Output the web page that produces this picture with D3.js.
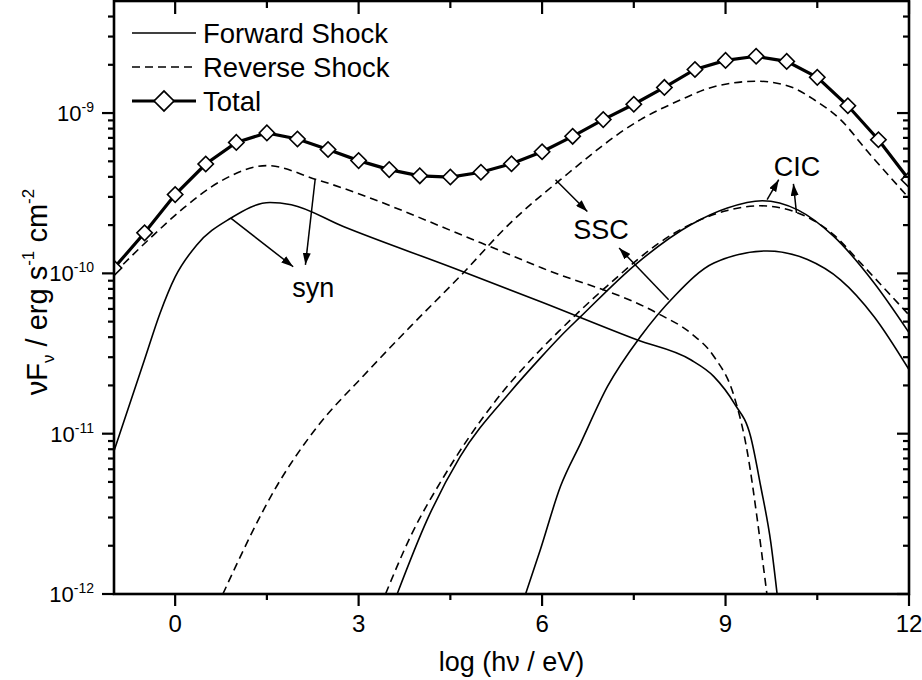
<!DOCTYPE html>
<html>
<head>
<meta charset="utf-8">
<script src="https://d3js.org/d3.v7.min.js"></script>
<style>
body { margin: 0; background: #fff; }
text { font-family: "Liberation Sans", Arial, sans-serif; fill: #000; }
.tick-line { stroke: #000; stroke-width: 2.2; }
</style>
</head>
<body>
<div id="chart"></div>
<script>
// values: x = log(hv/eV), y = vF_v in erg s^-1 cm^-2
var fsSynX = [-1, -0.5, -0.25, 0, 0.35, 0.9, 1.55, 1.9, 2.75, 4.55, 6.0, 7.55, 8.43, 8.81, 9.14, 9.41, 9.575, 9.74, 9.85];
var fsSynY = [7.8e-12, 2.9e-11, 5.6e-11, 9.5e-11, 1.5e-10, 2.2e-10, 2.77e-10, 2.68e-10, 1.96e-10, 1.08e-10, 6.6e-11, 3.85e-11, 2.89e-11, 2.27e-11, 1.55e-11, 9.6e-12, 4.7e-12, 2.1e-12, 9.5e-13];

var rsSynX = [-1, -0.35, 0.14, 0.74, 1.5, 2.32, 5.0, 6.0, 7.88, 8.43, 8.81, 9.14, 9.36, 9.52, 9.66, 9.7];
var rsSynY = [1.0e-10, 1.74e-10, 2.56e-10, 3.75e-10, 4.7e-10, 3.84e-10, 1.55e-10, 1.08e-10, 5.65e-11, 4.24e-11, 3.03e-11, 1.71e-11, 7.55e-12, 2.9e-12, 1.12e-12, 8.5e-13];

var rsSscX = [0.78, 1.66, 2.32, 3.08, 3.85, 4.66, 5.48, 6.3, 7.61, 8.27, 8.81, 9.52, 10.06, 10.45, 10.88, 11.32, 12.0];
var rsSscY = [1.0e-12, 4.7e-12, 1.1e-11, 2.3e-11, 4.67e-11, 9.6e-11, 2.06e-10, 3.84e-10, 9.1e-10, 1.21e-9, 1.46e-9, 1.58e-9, 1.46e-9, 1.21e-9, 9.1e-10, 5.77e-10, 2.95e-10];

var fsSscX = [3.63, 4.12, 4.66, 5.48, 5.97, 6.3, 6.63, 7.556, 8.43, 9.03, 9.6, 10.18, 10.77, 11.43, 12.0];
var fsSscY = [1.0e-12, 2.9e-12, 7.19e-12, 1.82e-11, 2.96e-11, 4.04e-11, 5.37e-11, 1.16e-10, 2.01e-10, 2.56e-10, 2.84e-10, 2.49e-10, 1.70e-10, 8.71e-11, 4.27e-11];

var rsCicX = [3.44, 3.85, 4.39, 5.21, 5.97, 6.3, 7.0, 8.16, 9.03, 9.57, 10.12, 10.77, 11.21, 11.92, 12.0];
var rsCicY = [1.0e-12, 2.29e-12, 5.37e-12, 1.55e-11, 3.33e-11, 4.45e-11, 7.94e-11, 1.78e-10, 2.47e-10, 2.64e-10, 2.43e-10, 1.74e-10, 1.16e-10, 5.93e-11, 5.5e-11];

var fsCicX = [5.73, 5.97, 6.3, 6.63, 7.07, 7.61, 8.16, 8.81, 9.68, 10.34, 10.88, 11.43, 12.0];
var fsCicY = [1.0e-12, 1.88e-12, 4.68e-12, 8.71e-12, 1.97e-11, 4.04e-11, 7.18e-11, 1.16e-10, 1.38e-10, 1.22e-10, 9.12e-11, 5.37e-11, 2.51e-11];

var totalX = [-1, -0.5, 0, 0.5, 1, 1.5, 2, 2.5, 3, 3.5, 4, 4.5, 5, 5.5, 6, 6.5, 7, 7.5, 8, 8.5, 9, 9.5, 10, 10.5, 11, 11.5, 12];
var totalY = [1.08e-10, 1.79e-10, 3.10e-10, 4.81e-10, 6.56e-10, 7.52e-10, 6.89e-10, 5.92e-10, 5.05e-10, 4.44e-10, 4.06e-10, 3.99e-10, 4.27e-10, 4.83e-10, 5.74e-10, 7.16e-10, 9.10e-10, 1.135e-9, 1.445e-9, 1.87e-9, 2.13e-9, 2.26e-9, 2.10e-9, 1.67e-9, 1.11e-9, 6.82e-10, 3.84e-10];

var xMajor = [0, 3, 6, 9, 12];
var xMinor = [1.5, 4.5, 7.5, 10.5];
var yMajor = [1e-12, 1e-11, 1e-10, 1e-9];
var yMajorExp = ["-12", "-11", "-10", "-9"];
var yMinor = [2e-12, 3e-12, 4e-12, 5e-12, 6e-12, 7e-12, 8e-12, 9e-12,
              2e-11, 3e-11, 4e-11, 5e-11, 6e-11, 7e-11, 8e-11, 9e-11,
              2e-10, 3e-10, 4e-10, 5e-10, 6e-10, 7e-10, 8e-10, 9e-10,
              2e-9, 3e-9, 4e-9];

var legendLabels = ["Forward Shock", "Reverse Shock", "Total"];

// annotation labels and arrows, in data units
var noteText = ["syn", "SSC", "CIC"];
var noteX = [1.915, 6.51, 9.79];
var noteY = [7.14e-11, 1.64e-10, 4.06e-10];
var arrowX1 = [0.91, 2.29, 6.22, 8.07, 9.68, 10.16];
var arrowY1 = [2.21e-10, 3.88e-10, 3.84e-10, 6.84e-11, 2.88e-10, 2.38e-10];
var arrowX2 = [1.93, 2.13, 6.74, 7.26, 9.87, 10.11];
var arrowY2 = [1.10e-10, 1.13e-10, 2.43e-10, 1.44e-10, 3.84e-10, 3.62e-10];

var W = 922, H = 680;
var pLeft = 114, pRight = 909, pTop = 1, pBottom = 594;

var x = d3.scaleLinear().domain([-1, 12]).range([pLeft, pRight]);
var y = d3.scaleLog().domain([1e-12, 5e-9]).range([pBottom, pTop]);

var svg = d3.select("#chart").append("svg")
    .attr("width", W)
    .attr("height", H);

var defs = svg.append("defs");
defs.append("clipPath").attr("id", "plotclip")
    .append("rect")
    .attr("x", pLeft).attr("y", 0)
    .attr("width", pRight - pLeft).attr("height", pBottom);
defs.append("marker")
    .attr("id", "head")
    .attr("markerUnits", "userSpaceOnUse")
    .attr("markerWidth", 13).attr("markerHeight", 8)
    .attr("refX", 12).attr("refY", 4)
    .attr("orient", "auto")
    .append("path")
    .attr("d", "M0,0L12,4L0,8Z")
    .attr("fill", "#000");

var plot = svg.append("g").attr("clip-path", "url(#plotclip)");

function zip(xs, ys) {
    return xs.map(function(v, i) { return [v, ys[i]]; });
}

var smooth = d3.line()
    .x(function(d) { return x(d[0]); })
    .y(function(d) { return y(d[1]); })
    .curve(d3.curveMonotoneX);

var curves = [
    { xs: fsSynX, ys: fsSynY, dash: null },
    { xs: rsSynX, ys: rsSynY, dash: "8,5" },
    { xs: rsSscX, ys: rsSscY, dash: "8,5" },
    { xs: fsSscX, ys: fsSscY, dash: null },
    { xs: rsCicX, ys: rsCicY, dash: "8,5" },
    { xs: fsCicX, ys: fsCicY, dash: null }
];

curves.forEach(function(c) {
    plot.append("path")
        .attr("d", smooth(zip(c.xs, c.ys)))
        .attr("fill", "none")
        .attr("stroke", "#000")
        .attr("stroke-width", 1.6)
        .attr("stroke-dasharray", c.dash);
});

// total
var totalData = zip(totalX, totalY);
plot.append("path")
    .attr("d", d3.line()
        .x(function(d) { return x(d[0]); })
        .y(function(d) { return y(d[1]); })(totalData))
    .attr("fill", "none")
    .attr("stroke", "#000")
    .attr("stroke-width", 3.2);

var diamond = d3.symbol().type(d3.symbolSquare).size(118);
plot.selectAll(".dia")
    .data(totalData)
    .enter().append("path")
    .attr("class", "dia")
    .attr("d", diamond)
    .attr("transform", function(d) { return "translate(" + x(d[0]) + "," + y(d[1]) + ") rotate(45)"; })
    .attr("fill", "#fff")
    .attr("stroke", "#000")
    .attr("stroke-width", 1.6);

// annotations
var arrows = arrowX1.map(function(v, i) {
    return { x1: v, y1: arrowY1[i], x2: arrowX2[i], y2: arrowY2[i] };
});
svg.selectAll(".arrow")
    .data(arrows)
    .enter().append("line")
    .attr("class", "arrow")
    .attr("x1", function(d) { return x(d.x1); })
    .attr("y1", function(d) { return y(d.y1); })
    .attr("x2", function(d) { return x(d.x2); })
    .attr("y2", function(d) { return y(d.y2); })
    .attr("stroke", "#000")
    .attr("stroke-width", 1.5)
    .attr("marker-end", "url(#head)");

svg.selectAll(".note")
    .data(noteText)
    .enter().append("text")
    .attr("class", "note")
    .attr("x", function(d, i) { return x(noteX[i]); })
    .attr("y", function(d, i) { return y(noteY[i]); })
    .attr("font-size", 27)
    .text(function(d) { return d; });

// frame
svg.append("rect")
    .attr("x", pLeft).attr("y", pTop)
    .attr("width", pRight - pLeft).attr("height", pBottom - pTop)
    .attr("fill", "none")
    .attr("stroke", "#000")
    .attr("stroke-width", 2.6);

// ticks: bottom/left point out, top/right point in
function xTicks(vals, len) {
    svg.append("g").selectAll("line")
        .data(vals)
        .enter().append("line")
        .attr("class", "tick-line")
        .attr("x1", function(d) { return x(d); })
        .attr("x2", function(d) { return x(d); })
        .attr("y1", pBottom)
        .attr("y2", pBottom + len);
    svg.append("g").selectAll("line")
        .data(vals)
        .enter().append("line")
        .attr("class", "tick-line")
        .attr("x1", function(d) { return x(d); })
        .attr("x2", function(d) { return x(d); })
        .attr("y1", pTop)
        .attr("y2", pTop + len + 1);
}
function yTicks(vals, len) {
    svg.append("g").selectAll("line")
        .data(vals)
        .enter().append("line")
        .attr("class", "tick-line")
        .attr("x1", pLeft - len)
        .attr("x2", pLeft)
        .attr("y1", function(d) { return y(d); })
        .attr("y2", function(d) { return y(d); });
    svg.append("g").selectAll("line")
        .data(vals)
        .enter().append("line")
        .attr("class", "tick-line")
        .attr("x1", pRight - len)
        .attr("x2", pRight)
        .attr("y1", function(d) { return y(d); })
        .attr("y2", function(d) { return y(d); });
}
xTicks(xMajor, 12);
xTicks(xMinor, 6);
yTicks(yMajor, 12);
yTicks(yMinor, 6);

// tick labels
svg.selectAll(".xlab")
    .data(xMajor)
    .enter().append("text")
    .attr("class", "xlab")
    .attr("x", function(d) { return x(d); })
    .attr("y", pBottom + 38)
    .attr("text-anchor", "middle")
    .attr("font-size", 24)
    .text(function(d) { return d; });

var ylab = svg.selectAll(".ylab")
    .data(yMajor)
    .enter().append("text")
    .attr("class", "ylab")
    .attr("x", pLeft - 20)
    .attr("y", function(d) { return y(d) + 8; })
    .attr("text-anchor", "end")
    .attr("font-size", 22);
ylab.append("tspan").text("10");
ylab.append("tspan")
    .attr("font-size", 14)
    .attr("dy", -9)
    .text(function(d, i) { return yMajorExp[i]; });

// axis titles
svg.append("text")
    .attr("x", (pLeft + pRight) / 2)
    .attr("y", 671)
    .attr("text-anchor", "middle")
    .attr("font-size", 27)
    .text("log (h\u03bd / eV)");

var yt = svg.append("text")
    .attr("transform", "translate(47,292) rotate(-90)")
    .attr("text-anchor", "middle")
    .attr("font-size", 29);
yt.append("tspan").text("\u03bdF");
yt.append("tspan").attr("font-size", 17).attr("dy", 7).text("\u03bd");
yt.append("tspan").attr("dy", -7).text(" / erg s");
yt.append("tspan").attr("font-size", 17).attr("dy", -13).text("-1");
yt.append("tspan").attr("dy", 13).text(" cm");
yt.append("tspan").attr("font-size", 17).attr("dy", -13).text("-2");

// legend
var legY = [33, 67, 101];
var leg = svg.selectAll(".leg")
    .data(legendLabels)
    .enter().append("g")
    .attr("class", "leg")
    .attr("transform", function(d, i) { return "translate(132," + legY[i] + ")"; });
leg.append("line")
    .attr("x1", 0).attr("x2", 64)
    .attr("stroke", "#000")
    .attr("stroke-width", function(d, i) { return i === 2 ? 3.2 : 1.6; })
    .attr("stroke-dasharray", function(d, i) { return i === 1 ? "8,5" : null; });
leg.filter(function(d, i) { return i === 2; })
    .append("path")
    .attr("d", d3.symbol().type(d3.symbolSquare).size(200))
    .attr("transform", "translate(32,0) rotate(45)")
    .attr("fill", "#fff")
    .attr("stroke", "#000")
    .attr("stroke-width", 1.6);
leg.append("text")
    .attr("x", 71)
    .attr("y", 10)
    .attr("font-size", 27.5)
    .text(function(d) { return d; });
</script>
</body>
</html>
